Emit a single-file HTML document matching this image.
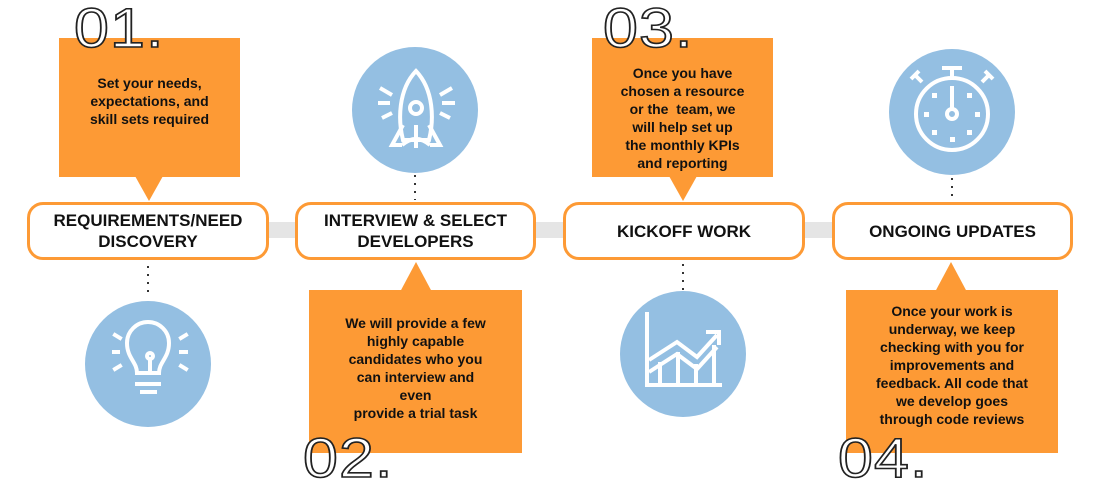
<!DOCTYPE html>
<html><head><meta charset="utf-8"><style>
*{margin:0;padding:0;box-sizing:border-box}
body{width:1100px;height:500px;background:#fff;position:relative;overflow:hidden;font-family:"Liberation Sans",sans-serif}
.a{position:absolute}
.box{position:absolute;background:#fd9a35;color:#111;font-weight:bold;font-size:14px;line-height:18px;text-align:center;display:flex;justify-content:center}
.pill{position:absolute;top:202px;height:58px;border:3px solid #fd9a35;border-radius:16px;background:#fff;display:flex;align-items:center;justify-content:center;text-align:center;font-weight:bold;font-size:17px;line-height:21px;color:#111}
.bar{position:absolute;top:222px;height:16px;background:#e5e5e5}
.num{position:absolute;font-size:56px;font-weight:normal;color:#fff;-webkit-text-stroke:1.6px #222;letter-spacing:1px;line-height:56px;transform:scaleX(1.12);transform-origin:left top}
</style></head><body>
<div class="bar" style="left:266px;width:32px"></div>
<div class="bar" style="left:533px;width:33px"></div>
<div class="bar" style="left:803px;width:32px"></div>

<svg class="a" style="left:0;top:0" width="1100" height="500">
<polygon points="135,176 163,176 149,201" fill="#fd9a35"/>
<polygon points="669,176 697,176 683,201" fill="#fd9a35"/>
<polygon points="400,292 432,292 416,262" fill="#fd9a35"/>
<polygon points="935,292 967,292 951,262" fill="#fd9a35"/>
<g fill="#94bfe2"><circle cx="148" cy="364" r="63"/><circle cx="415" cy="110" r="63"/><circle cx="683" cy="354" r="63"/><circle cx="952" cy="112" r="63"/></g>
<g stroke="#333" stroke-width="2" stroke-dasharray="2 6"><line x1="148" y1="266" x2="148" y2="298"/><line x1="415" y1="175" x2="415" y2="200"/><line x1="683" y1="264" x2="683" y2="290"/><line x1="952" y1="178" x2="952" y2="200"/></g>
<!-- bulb -->
<g stroke="#fff" stroke-width="4" fill="none" stroke-linecap="square">
<path d="M137,373 C137,362 127,358 127,343 A21,21 0 1 1 169,343 C169,358 159,362 159,373 Z"/>
<circle cx="150" cy="356" r="3"/><line x1="150" y1="359" x2="150" y2="373"/>
<line x1="137" y1="384" x2="159" y2="384"/><line x1="142" y1="392" x2="155" y2="392"/>
<line x1="114" y1="352" x2="118" y2="352"/><line x1="181" y1="352" x2="186" y2="352"/>
<line x1="115" y1="335" x2="120" y2="338"/><line x1="181" y1="338" x2="186" y2="335"/>
<line x1="115" y1="369" x2="120" y2="366"/><line x1="181" y1="366" x2="186" y2="369"/>
</g>
<!-- rocket -->
<g stroke="#fff" stroke-width="4" fill="none">
<path d="M416,71 C398,90 398,120 403,140 L429,140 C434,120 434,90 416,71 Z"/>
<circle cx="416" cy="108" r="6"/>
<path d="M403,125 L392,145 L402,145 M429,125 L440,145 L430,145"/>
<path d="M402,145 Q416,133 430,145"/><line x1="416" y1="125" x2="416" y2="148"/>
<line x1="380" y1="88" x2="392" y2="95"/><line x1="378" y1="103" x2="390" y2="103"/><line x1="382" y1="118" x2="392" y2="113"/>
<line x1="452" y1="88" x2="440" y2="95"/><line x1="455" y1="103" x2="442" y2="103"/><line x1="450" y1="118" x2="440" y2="113"/>
</g>
<!-- chart -->
<g stroke="#fff" stroke-width="4" fill="none">
<polyline points="647,312 647,385 722,385"/>
<polyline points="649,360 677,342 697,357 717,335"/><polyline points="649,372 677,354 697,369 717,347"/>
<line x1="660" y1="362" x2="660" y2="385"/><line x1="678" y1="352" x2="678" y2="385"/><line x1="696" y1="364" x2="696" y2="385"/><line x1="714" y1="345" x2="714" y2="385"/>
<polyline points="706,332 719,332 719,345"/>
</g>
<!-- stopwatch -->
<g stroke="#fff" stroke-width="4" fill="none">
<circle cx="952" cy="114" r="36"/><line x1="952" y1="68" x2="952" y2="78"/><line x1="942" y1="68" x2="962" y2="68"/>
<line x1="922" y1="82" x2="915" y2="75"/><line x1="911" y1="79" x2="919" y2="71"/>
<line x1="982" y1="82" x2="989" y2="75"/><line x1="993" y1="79" x2="985" y2="71"/>
<line x1="952" y1="86" x2="952" y2="108"/><circle cx="952" cy="114" r="5"/>
</g>
<g fill="#fff"><rect x="924" y="112" width="5" height="5"/><rect x="975" y="112" width="5" height="5"/><rect x="950" y="137" width="5" height="5"/>
<rect x="932" y="93" width="5" height="5"/><rect x="967" y="93" width="5" height="5"/><rect x="932" y="130" width="5" height="5"/><rect x="967" y="130" width="5" height="5"/></g>
</svg>

<div class="box" style="left:59px;top:38px;width:181px;height:139px;padding-top:36px">Set your needs,<br>expectations, and<br>skill sets required</div>
<div class="box" style="left:592px;top:38px;width:181px;height:139px;padding-top:26px">Once you have<br>chosen a resource<br>or the&nbsp; team, we<br>will help set up<br>the monthly KPIs<br>and reporting</div>
<div class="box" style="left:309px;top:290px;width:213px;height:163px;padding-top:24px">We will provide a few<br>highly capable<br>candidates who you<br>can interview and<br>even<br>provide a trial task</div>
<div class="box" style="left:846px;top:290px;width:212px;height:163px;padding-top:12px">Once your work is<br>underway, we keep<br>checking with you for<br>improvements and<br>feedback. All code that<br>we develop goes<br>through code reviews</div>

<div class="num" style="left:74px;top:0px">01.</div>
<div class="num" style="left:603px;top:0px">03.</div>
<div class="num" style="left:303px;top:430px">02.</div>
<div class="num" style="left:838px;top:430px">04.</div>

<div class="pill" style="left:27px;width:242px">REQUIREMENTS/NEED<br>DISCOVERY</div>
<div class="pill" style="left:295px;width:241px">INTERVIEW &amp; SELECT<br>DEVELOPERS</div>
<div class="pill" style="left:563px;width:242px">KICKOFF WORK</div>
<div class="pill" style="left:832px;width:241px">ONGOING UPDATES</div>
</body></html>
